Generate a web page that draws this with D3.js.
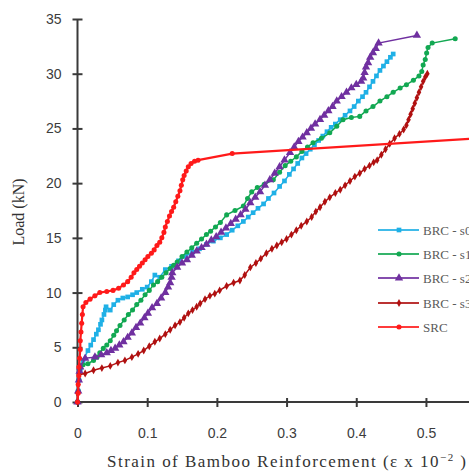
<!DOCTYPE html>
<html>
<head>
<meta charset="utf-8">
<script src="https://cdn.jsdelivr.net/npm/d3@7"></script>
<style>
  html, body { margin: 0; padding: 0; background: #fff; overflow: hidden; }
  #chart { width: 469px; height: 473px; }
</style>
</head>
<body>
<div id="chart"></div>
<script>
// strain (x 10^-2), load (kN) pairs
var s0Data = [[0,0],[0.001,1],[0.002,2],[0.004,3],[0.008,3.8],[0.015,4.7],[0.019,5.2],[0.023,5.7],[0.027,6.2],[0.030,6.6],[0.033,7.1],[0.035,7.5],[0.038,8.0],[0.040,8.4],[0.041,8.7],[0.047,8.4],[0.052,8.9],[0.058,9.3],[0.065,9.5],[0.072,9.6],[0.079,9.8],[0.085,10.0],[0.093,10.3],[0.100,10.5],[0.106,11.0],[0.111,11.6],[0.118,11.4],[0.126,12.1],[0.135,12.4],[0.145,12.9],[0.155,13.3],[0.165,13.7],[0.175,14.0],[0.185,14.4],[0.195,14.7],[0.205,15.0],[0.214,15.3],[0.222,15.7],[0.230,16.1],[0.238,16.5],[0.245,16.9],[0.252,17.3],[0.259,17.7],[0.267,18.1],[0.274,18.6],[0.282,19.1],[0.290,19.7],[0.297,20.2],[0.304,20.8],[0.310,21.3],[0.316,21.8],[0.322,22.3],[0.328,22.7],[0.334,23.1],[0.340,23.5],[0.346,23.9],[0.352,24.3],[0.358,24.7],[0.364,25.1],[0.370,25.4],[0.377,25.8],[0.384,26.2],[0.391,26.6],[0.397,27.0],[0.403,27.5],[0.409,27.9],[0.414,28.3],[0.419,28.8],[0.424,29.3],[0.429,29.8],[0.434,30.3],[0.439,30.7],[0.444,31.1],[0.449,31.5],[0.453,31.8]];

var s1Data = [[0,0],[0.001,1],[0.002,2],[0.003,3],[0.008,3.4],[0.015,3.5],[0.023,3.8],[0.028,4.1],[0.032,4.5],[0.037,4.9],[0.042,5.2],[0.047,5.6],[0.052,6.1],[0.056,6.5],[0.061,7.0],[0.067,7.5],[0.073,8.0],[0.079,8.4],[0.085,8.9],[0.091,9.3],[0.097,9.8],[0.103,10.2],[0.109,10.7],[0.115,11.0],[0.121,11.4],[0.127,11.8],[0.133,12.2],[0.138,12.5],[0.143,12.8],[0.150,13.3],[0.157,13.7],[0.164,14.1],[0.171,14.5],[0.178,14.9],[0.185,15.3],[0.191,15.6],[0.198,16.0],[0.205,16.4],[0.214,17.1],[0.226,17.5],[0.238,17.9],[0.244,18.6],[0.250,19.2],[0.258,19.6],[0.268,19.9],[0.281,20.3],[0.290,21.0],[0.298,21.6],[0.306,22.0],[0.314,22.4],[0.322,22.9],[0.330,23.3],[0.338,23.7],[0.350,24.1],[0.362,24.6],[0.372,25.2],[0.381,25.8],[0.393,26.0],[0.405,26.1],[0.414,26.6],[0.424,27.0],[0.434,27.5],[0.444,27.9],[0.453,28.3],[0.463,28.7],[0.472,29.0],[0.482,29.4],[0.490,29.8],[0.494,30.2],[0.496,30.8],[0.499,31.3],[0.501,31.9],[0.503,32.4],[0.509,32.8],[0.542,33.2]];

var s2Data = [[0,0],[0.001,1],[0.002,2],[0.003,2.8],[0.004,3.2],[0.011,4.0],[0.025,4.1],[0.034,4.3],[0.042,4.5],[0.048,4.7],[0.054,4.9],[0.060,5.2],[0.066,5.5],[0.072,5.9],[0.078,6.3],[0.084,6.8],[0.090,7.2],[0.096,7.7],[0.101,8.1],[0.107,8.6],[0.114,9.0],[0.120,9.5],[0.126,10.0],[0.130,10.5],[0.133,10.9],[0.135,11.4],[0.136,11.8],[0.143,12.3],[0.150,12.7],[0.157,13.0],[0.164,13.4],[0.171,13.8],[0.178,14.1],[0.185,14.4],[0.192,14.8],[0.199,15.1],[0.206,15.5],[0.213,15.9],[0.220,16.3],[0.227,16.7],[0.234,17.1],[0.241,17.6],[0.248,18.2],[0.255,18.7],[0.262,19.2],[0.269,19.8],[0.276,20.3],[0.283,20.9],[0.290,21.5],[0.297,22.1],[0.305,22.8],[0.311,23.3],[0.317,23.8],[0.323,24.2],[0.329,24.6],[0.335,25.0],[0.341,25.4],[0.348,25.8],[0.354,26.2],[0.360,26.6],[0.366,27.0],[0.372,27.5],[0.379,27.9],[0.386,28.3],[0.393,28.7],[0.400,29.0],[0.407,29.3],[0.410,29.6],[0.412,30.1],[0.414,30.6],[0.417,31.0],[0.420,31.5],[0.424,31.9],[0.428,32.3],[0.432,32.8],[0.487,33.5]];

var s3Data = [[0,0],[0.000,0.8],[0.001,1.6],[0.002,2.5],[0.011,2.6],[0.023,2.9],[0.035,3.1],[0.047,3.3],[0.058,3.6],[0.068,3.8],[0.078,4.1],[0.087,4.4],[0.095,4.7],[0.103,5.1],[0.111,5.5],[0.118,5.8],[0.126,6.2],[0.133,6.6],[0.140,7.0],[0.147,7.3],[0.153,7.7],[0.159,8.1],[0.165,8.4],[0.171,8.7],[0.176,9.0],[0.183,9.4],[0.190,9.7],[0.197,9.9],[0.204,10.2],[0.214,10.6],[0.224,10.9],[0.233,11.1],[0.240,11.6],[0.248,12.3],[0.256,12.7],[0.263,13.1],[0.271,13.6],[0.279,14.0],[0.286,14.3],[0.293,14.6],[0.300,14.9],[0.307,15.3],[0.314,15.7],[0.321,16.1],[0.329,16.5],[0.336,16.9],[0.342,17.4],[0.348,17.8],[0.355,18.3],[0.362,18.7],[0.370,19.1],[0.377,19.4],[0.384,19.8],[0.391,20.2],[0.398,20.6],[0.405,20.9],[0.412,21.3],[0.419,21.6],[0.425,21.9],[0.430,22.1],[0.436,22.6],[0.442,23.1],[0.448,23.6],[0.455,24.1],[0.462,24.5],[0.468,24.9],[0.472,25.3],[0.475,25.8],[0.478,26.3],[0.481,26.8],[0.484,27.3],[0.487,27.8],[0.490,28.3],[0.493,28.8],[0.496,29.3],[0.499,29.7],[0.502,30.0]];

var srcData = [[0,0],[0.001,0.8],[0.001,1.6],[0.002,2.4],[0.002,3.2],[0.003,4.0],[0.004,4.8],[0.004,5.6],[0.005,6.4],[0.006,7.2],[0.007,8.0],[0.008,8.7],[0.012,9.1],[0.018,9.4],[0.025,9.7],[0.032,10.0],[0.042,10.1],[0.051,10.2],[0.059,10.4],[0.066,10.7],[0.072,11.0],[0.077,11.4],[0.081,11.8],[0.085,12.1],[0.089,12.4],[0.093,12.7],[0.097,13.0],[0.101,13.3],[0.106,13.6],[0.110,13.9],[0.114,14.3],[0.118,14.6],[0.121,15.0],[0.124,15.5],[0.126,16.0],[0.129,16.5],[0.132,17.0],[0.135,17.4],[0.138,17.8],[0.141,18.3],[0.144,18.8],[0.147,19.3],[0.149,19.8],[0.151,20.3],[0.153,20.7],[0.156,21.1],[0.159,21.5],[0.163,21.8],[0.168,22.0],[0.173,22.1],[0.222,22.7],[0.600,24.2]];

var seriesNames = ["BRC - s0", "BRC - s1", "BRC - s2", "BRC - s3", "SRC"];
var seriesColors = ["#1fb0e6", "#12a852", "#7030a0", "#b01010", "#ff1a1a"];
var seriesShapes = ["square", "circle", "triangle", "diamond", "circle"];
var seriesData = [s0Data, s1Data, s2Data, s3Data, srcData];

var xTicks = [0, 0.1, 0.2, 0.3, 0.4, 0.5];
var yTicks = [0, 5, 10, 15, 20, 25, 30, 35];

var chart = {
    width: 469,
    height: 473,
    init: function(){
        this.x = d3.scaleLinear().domain([0, 0.5625]).range([77.5, 469.5]);
        this.y = d3.scaleLinear().domain([0, 35]).range([402, 19]);

        this.svg = d3.select('#chart').append('svg')
            .attr('width', this.width)
            .attr('height', this.height)
            .style('font-family', '"Liberation Serif", "Times New Roman", serif');

        this.svg.append('defs').append('clipPath').attr('id', 'plotclip')
            .append('rect').attr('x', 0).attr('y', 0).attr('width', 469).attr('height', 420);

        this.drawAxes();
        this.drawSeries();
        this.drawLegend();
    },
    symbolFor: function(shape){
        var types = {square: d3.symbolSquare, circle: d3.symbolCircle, triangle: d3.symbolTriangle, diamond: d3.symbolDiamond};
        var sizes = {square: 22, circle: 20, triangle: 30, diamond: 18};
        return d3.symbol().type(types[shape]).size(sizes[shape]);
    },
    drawAxes: function(){
        var x = this.x, y = this.y;
        var xAxis = d3.axisBottom(x).tickValues(xTicks).tickSize(0).tickFormat(d3.format('~g'));
        var yAxis = d3.axisLeft(y).tickValues(yTicks).tickSize(0).tickFormat(d3.format('d'));

        var gx = this.svg.append('g').attr('transform', 'translate(0,' + y(0) + ')').call(xAxis);
        gx.select('.domain').remove();
        gx.append('line').attr('x1', x(0)).attr('x2', 469).attr('stroke', '#3a3a3a').attr('stroke-width', 2);
        gx.selectAll('.tick').append('line').attr('y1', -4).attr('y2', 5).attr('stroke', '#3a3a3a').attr('stroke-width', 2);
        gx.selectAll('.tick text').attr('y', 26)
            .style('font-family', '"Liberation Sans", Arial, sans-serif').style('font-size', '14px').attr('fill', '#3c3c3c');

        var gy = this.svg.append('g').attr('transform', 'translate(' + x(0) + ',0)').call(yAxis);
        gy.select('.domain').remove();
        gy.append('line').attr('y1', y(0)).attr('y2', y(35)).attr('stroke', '#3a3a3a').attr('stroke-width', 2);
        gy.selectAll('.tick').append('line').attr('x1', -5).attr('x2', 5).attr('stroke', '#3a3a3a').attr('stroke-width', 2);
        gy.selectAll('.tick text').attr('x', -16)
            .style('font-family', '"Liberation Sans", Arial, sans-serif').style('font-size', '14px').attr('fill', '#3c3c3c');

        // axis titles
        var xt = this.svg.append('text')
            .attr('x', 107).attr('y', 467)
            .attr('textLength', 359).attr('lengthAdjust', 'spacing')
            .style('font-size', '17px').attr('fill', '#333');
        xt.append('tspan').text('Strain of Bamboo Reinforcement  (\u03b5 x 10');
        xt.append('tspan').attr('dy', -6).style('font-size', '11px').text('\u2212');
        xt.append('tspan').style('font-size', '11px').text('2');
        xt.append('tspan').attr('dy', 6).text(' )');

        this.svg.append('text')
            .attr('transform', 'translate(24,212) rotate(-90)')
            .attr('text-anchor', 'middle')
            .style('font-size', '16px').attr('fill', '#333')
            .text('Load (kN)');
    },
    drawSeries: function(){
        var x = this.x, y = this.y, self = this;
        var line = d3.line().x(function(d){return x(d[0])}).y(function(d){return y(d[1])});
        var plot = this.svg.append('g').attr('clip-path', 'url(#plotclip)');

        seriesData.forEach(function(data, i){
            var g = plot.append('g');
            g.append('path').datum(data)
                .attr('d', line)
                .attr('fill', 'none')
                .attr('stroke', seriesColors[i])
                .attr('stroke-width', i === 4 ? 2.2 : 1.5);
            g.selectAll('path.mark').data(data).enter().append('path')
                .attr('class', 'mark')
                .attr('d', self.symbolFor(seriesShapes[i]))
                .attr('transform', function(d){return 'translate(' + x(d[0]) + ',' + y(d[1]) + ')'})
                .attr('fill', seriesColors[i]);
        });
    },
    drawLegend: function(){
        var self = this;
        var rowY = [230, 254, 278, 303, 327];
        var lg = this.svg.append('g');
        seriesNames.forEach(function(name, i){
            var row = lg.append('g').attr('transform', 'translate(0,' + rowY[i] + ')');
            row.append('line').attr('x1', 378).attr('x2', 419)
                .attr('stroke', seriesColors[i]).attr('stroke-width', 1.8).attr('opacity', 0.85);
            row.append('path').attr('d', self.symbolFor(seriesShapes[i]))
                .attr('transform', 'translate(399,0)').attr('fill', seriesColors[i]);
            row.append('text').attr('x', 423).attr('y', 4.5)
                .style('font-size', '13px').attr('fill', '#5a5a5a')
                .text(name);
        });
    }
};

chart.init();
</script>
</body>
</html>
